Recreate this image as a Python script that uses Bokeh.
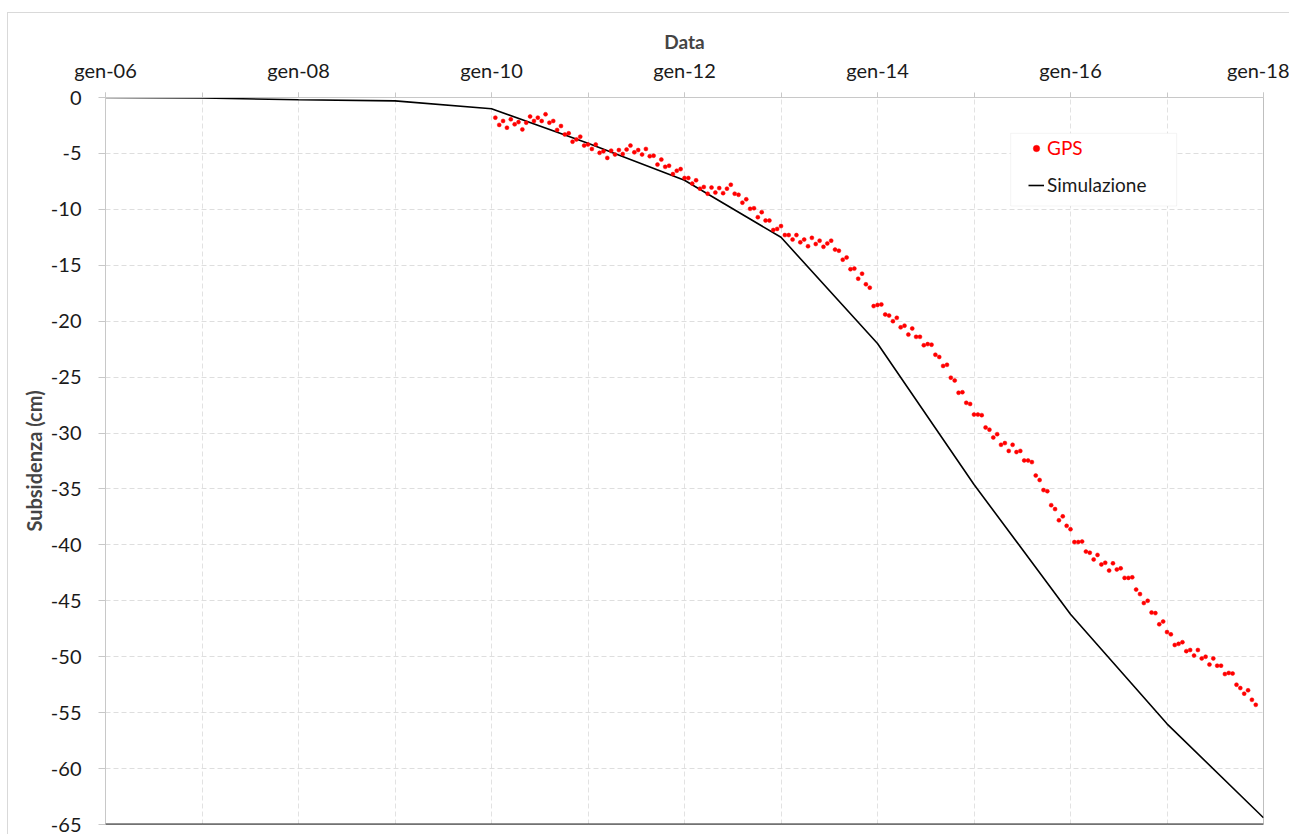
from bokeh.plotting import figure
from bokeh.models import (Range1d, FixedTicker, Legend, LegendItem,
                          BoxAnnotation, Span)
from bokeh.embed import file_html
from bokeh.resources import INLINE

# ---------------- data ----------------
x_tick_years = [2006, 2008, 2010, 2012, 2014, 2016, 2018]
x_tick_labels = ["gen-06", "gen-08", "gen-10", "gen-12", "gen-14", "gen-16", "gen-18"]
all_years = [2006, 2007, 2008, 2009, 2010, 2011, 2012, 2013, 2014, 2015, 2016, 2017, 2018]
y_ticks = [0, -5, -10, -15, -20, -25, -30, -35, -40, -45, -50, -55, -60, -65]
y_tick_labels = ["0", "-5", "-10", "-15", "-20", "-25", "-30", "-35", "-40",
                 "-45", "-50", "-55", "-60", "-65"]

sim_years = [2006, 2007, 2008, 2009, 2010, 2011, 2012, 2013, 2014, 2015, 2016, 2017, 2018]
sim_values = [0.0, -0.05, -0.2, -0.3, -1.0, -4.1, -7.4, -12.5, -22.0, -34.6, -46.2, -56.0, -64.4]

gps_years = [
    2010.04, 2010.08, 2010.12, 2010.16, 2010.20, 2010.24, 2010.28, 2010.32, 2010.36, 2010.40,
    2010.44, 2010.48, 2010.52, 2010.56, 2010.60, 2010.64, 2010.68, 2010.72, 2010.76, 2010.80,
    2010.84, 2010.88, 2010.92, 2010.96, 2011.00, 2011.04, 2011.08, 2011.12, 2011.16, 2011.20,
    2011.24, 2011.28, 2011.32, 2011.36, 2011.40, 2011.44, 2011.48, 2011.52, 2011.56, 2011.60,
    2011.64, 2011.68, 2011.72, 2011.76, 2011.80, 2011.84, 2011.88, 2011.92, 2011.96, 2012.00,
    2012.04, 2012.08, 2012.12, 2012.16, 2012.20, 2012.24, 2012.28, 2012.32, 2012.36, 2012.40,
    2012.44, 2012.48, 2012.52, 2012.56, 2012.60, 2012.64, 2012.68, 2012.72, 2012.76, 2012.80,
    2012.84, 2012.88, 2012.92, 2012.96, 2013.00, 2013.04, 2013.08, 2013.12, 2013.16, 2013.20,
    2013.24, 2013.28, 2013.32, 2013.36, 2013.40, 2013.44, 2013.48, 2013.52, 2013.56, 2013.60,
    2013.64, 2013.68, 2013.72, 2013.76, 2013.80, 2013.84, 2013.88, 2013.92, 2013.96, 2014.00,
    2014.04, 2014.08, 2014.12, 2014.16, 2014.20, 2014.24, 2014.28, 2014.32, 2014.36, 2014.40,
    2014.44, 2014.48, 2014.52, 2014.56, 2014.60, 2014.64, 2014.68, 2014.72, 2014.76, 2014.80,
    2014.84, 2014.88, 2014.92, 2014.96, 2015.00, 2015.04, 2015.08, 2015.12, 2015.16, 2015.20,
    2015.24, 2015.28, 2015.32, 2015.36, 2015.40, 2015.44, 2015.48, 2015.52, 2015.56, 2015.60,
    2015.64, 2015.68, 2015.72, 2015.76, 2015.80, 2015.84, 2015.88, 2015.92, 2015.96, 2016.00,
    2016.04, 2016.08, 2016.12, 2016.16, 2016.20, 2016.24, 2016.28, 2016.32, 2016.36, 2016.40,
    2016.44, 2016.48, 2016.52, 2016.56, 2016.60, 2016.64, 2016.68, 2016.72, 2016.76, 2016.80,
    2016.84, 2016.88, 2016.92, 2016.96, 2017.00, 2017.04, 2017.08, 2017.12, 2017.16, 2017.20,
    2017.24, 2017.28, 2017.32, 2017.36, 2017.40, 2017.44, 2017.48, 2017.52, 2017.56, 2017.60,
    2017.64, 2017.68, 2017.72, 2017.76, 2017.80, 2017.84, 2017.88, 2017.92,
]
gps_values = [
    -1.8, -2.45, -2.1, -2.7, -1.95, -2.4, -2.2, -2.85, -2.25, -1.7,
    -2.1, -1.8, -2.1, -1.5, -2.25, -2.1, -2.9, -2.55, -3.3, -3.2,
    -3.95, -3.75, -3.5, -4.3, -4.2, -4.6, -4.2, -4.95, -4.8, -5.4,
    -4.75, -5.1, -4.7, -5.05, -4.65, -4.3, -4.9, -4.7, -5.1, -4.6,
    -5.25, -5.2, -6.0, -5.55, -6.2, -6.1, -6.85, -6.55, -6.4, -7.2,
    -7.2, -7.7, -7.4, -8.15, -8.0, -8.6, -8.05, -8.5, -8.1, -8.55,
    -8.15, -7.8, -8.6, -8.7, -9.4, -9.1, -9.95, -9.9, -10.7, -10.25,
    -11.0, -11.0, -11.85, -11.75, -11.5, -12.3, -12.3, -12.7, -12.3, -12.95,
    -12.7, -13.3, -12.55, -13.1, -12.8, -13.35, -13.05, -12.8, -13.6, -13.7,
    -14.5, -14.3, -15.35, -15.3, -16.2, -15.75, -16.7, -17.0, -18.65, -18.55,
    -18.5, -19.4, -19.5, -20.0, -19.7, -20.55, -20.4, -21.2, -20.65, -21.4,
    -21.4, -22.15, -22.05, -22.1, -23.0, -23.2, -24.0, -23.9, -25.05, -25.3,
    -26.4, -26.35, -27.3, -27.4, -28.35, -28.35, -28.4, -29.5, -29.7, -30.4,
    -30.1, -31.05, -30.9, -31.6, -31.05, -31.7, -31.6, -32.45, -32.45, -32.6,
    -33.8, -34.2, -35.1, -35.2, -36.45, -36.8, -37.8, -37.45, -38.3, -38.6,
    -39.75, -39.75, -39.7, -40.6, -40.7, -41.3, -40.9, -41.75, -41.6, -42.3,
    -41.65, -42.2, -42.1, -42.95, -42.95, -42.9, -44.0, -44.4, -45.2, -45.0,
    -46.05, -46.1, -47.1, -46.85, -47.8, -48.0, -48.95, -48.85, -48.7, -49.5,
    -49.4, -49.9, -49.4, -50.15, -50.0, -50.7, -50.15, -50.8, -50.8, -51.55,
    -51.45, -51.5, -52.5, -52.8, -53.3, -53.0, -53.85, -54.3,
]

# ---------------- figure ----------------
FONT = "Lato"
p = figure(width=1282, height=822,
           x_range=Range1d(2006, 2018), y_range=Range1d(-65, 0),
           x_axis_location="above",
           output_backend="svg", toolbar_location=None,
           min_border_left=97, min_border_right=27,
           min_border_top=84, min_border_bottom=11)
p.styles = {"margin-left": "7px", "margin-top": "12px",
            "border-left": "1px solid #d9d9d9", "border-top": "1px solid #d9d9d9"}
p.outline_line_color = "#bfbfbf"
p.outline_line_width = 1
p.background_fill_color = "white"
p.border_fill_color = "white"

# x axis (top)
xa = p.xaxis[0]
xa.ticker = FixedTicker(ticks=x_tick_years, minor_ticks=all_years)
xa.major_label_overrides = dict(zip(x_tick_years, x_tick_labels))
xa.axis_label = "Data"
xa.axis_label_text_font = FONT
xa.axis_label_text_font_style = "bold"
xa.axis_label_text_font_size = "19px"
xa.axis_label_standoff = 2
xa.major_label_text_font = FONT
xa.major_label_text_font_size = "20px"
xa.major_label_text_color = "#1a1a1a"
xa.major_label_standoff = 11
xa.axis_line_color = "#c8c8c8"
xa.major_tick_line_color = "#c8c8c8"
xa.minor_tick_line_color = "#c8c8c8"
xa.major_tick_out = 5
xa.major_tick_in = 0
xa.minor_tick_out = 5
xa.minor_tick_in = 0

# y axis (left)
ya = p.yaxis[0]
ya.ticker = FixedTicker(ticks=y_ticks)
ya.major_label_overrides = dict(zip(y_ticks, y_tick_labels))
ya.axis_label = "Subsidenza (cm)"
ya.axis_label_text_font = FONT
ya.axis_label_text_font_style = "bold"
ya.axis_label_text_font_size = "20px"
ya.axis_label_standoff = 2
ya.major_label_text_font = FONT
ya.major_label_text_font_size = "20px"
ya.major_label_text_color = "#1a1a1a"
ya.major_label_standoff = 17
ya.axis_line_color = "#c8c8c8"
ya.major_tick_line_color = "#c8c8c8"
ya.major_tick_out = 7
ya.major_tick_in = 0
ya.minor_tick_line_color = None

# grids
p.xgrid.ticker = FixedTicker(ticks=all_years)
p.xgrid.grid_line_color = "#e2e2e2"
p.xgrid.grid_line_dash = "5 3"
p.ygrid.grid_line_color = "#dedede"
p.ygrid.grid_line_dash = "5 3"

# bottom dark axis line
p.add_layout(Span(location=-65, dimension="width", line_color="#262626", line_width=2))

# data
sim_r = p.line(sim_years, sim_values, line_color="black", line_width=1.6)
gps_r = p.scatter(gps_years, gps_values, marker="circle", size=4,
                  fill_color="#ff0000", line_color="#ff0000", line_width=0.5)

# legend box
p.add_layout(BoxAnnotation(left=2015.38, right=2017.10, top=-3.2, bottom=-9.7,
                           fill_color="white", fill_alpha=1.0,
                           line_color="#d9d9d9", line_width=1))

common = dict(background_fill_alpha=0, border_line_color=None,
              label_text_font=FONT, label_text_font_size="19px",
              glyph_width=16, glyph_height=20, label_height=20,
              label_standoff=3, padding=8, margin=0, spacing=0)
leg1 = Legend(items=[LegendItem(label="GPS", renderers=[gps_r])],
              location=(923, 665), label_text_color="#ff0000", **common)
leg2 = Legend(items=[LegendItem(label="Simulazione", renderers=[sim_r])],
              location=(923, 628), label_text_color="#1a1a1a", **common)
p.add_layout(leg1)
p.add_layout(leg2)

open("out.html", "w").write(file_html(p, INLINE))
